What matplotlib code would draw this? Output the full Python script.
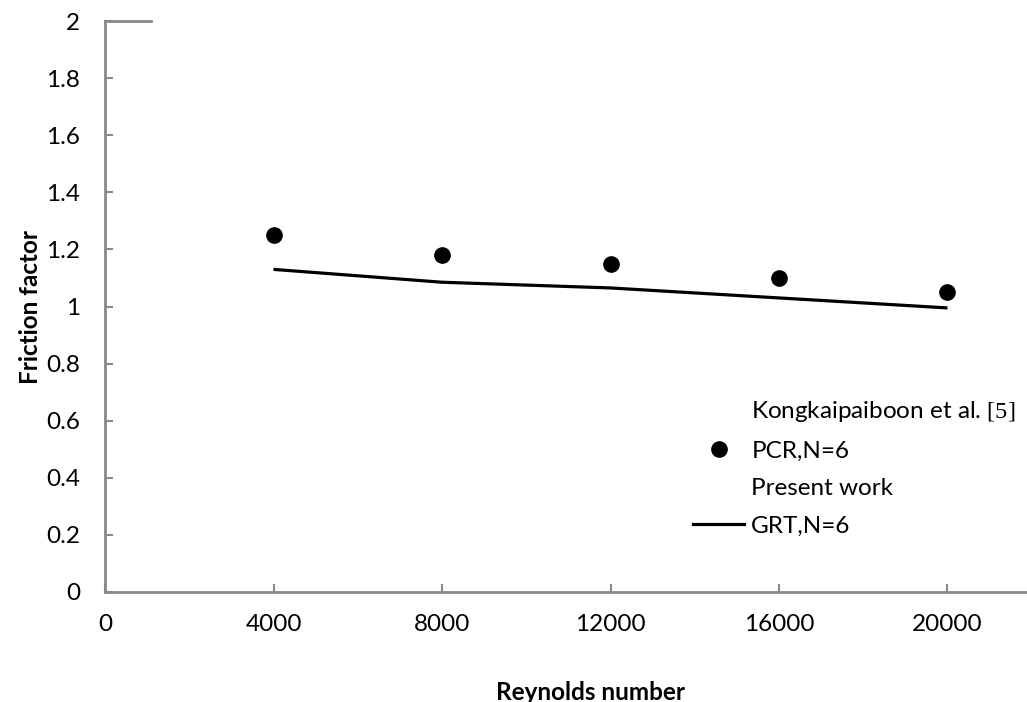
import matplotlib
matplotlib.use('Agg')
import matplotlib.pyplot as plt
from matplotlib.lines import Line2D

# Reynolds number vs friction factor, N=6
reynolds = [4000, 8000, 12000, 16000, 20000]
pcr_friction = [1.25, 1.18, 1.15, 1.10, 1.05]      # Kongkaipaiboon et al. [5]
grt_friction = [1.13, 1.085, 1.065, 1.03, 0.995]   # present work
x_ticks = [0, 4000, 8000, 12000, 16000, 20000]
y_ticks = [0, 0.2, 0.4, 0.6, 0.8, 1, 1.2, 1.4, 1.6, 1.8, 2]
y_tick_labels = ['0', '0.2', '0.4', '0.6', '0.8', '1', '1.2', '1.4', '1.6', '1.8', '2']

plt.rcParams['font.family'] = ['Lato', 'DejaVu Sans']
plt.rcParams['mathtext.fontset'] = 'custom'
plt.rcParams['mathtext.rm'] = 'Liberation Serif'

W, H = 1027, 702
fs = 17.5
fig = plt.figure(figsize=(W / 100, H / 100), dpi=100)
ax = fig.add_axes([105 / W, 1 - 592 / H, 1 - 105 / W, (592 - 21) / H])

grey = '#898989'
ax.plot(reynolds, grt_friction, color='black', lw=2.3, solid_capstyle='butt')
ax.plot(reynolds, pcr_friction, 'o', color='black', ms=11, ls='none')

ax.set_xlim(0, (W - 105) / 168.5 * 4000)
ax.set_ylim(0, 2)
ax.set_xticks(x_ticks)
ax.set_xticklabels([str(v) for v in x_ticks])
ax.set_yticks(y_ticks)
ax.set_yticklabels(y_tick_labels)

for side in ['top', 'right']:
    ax.spines[side].set_visible(False)
for side in ['left', 'bottom']:
    ax.spines[side].set_color(grey)
    ax.spines[side].set_linewidth(2)
# short stub along the top edge
ax.plot([0, 1100], [2, 2], color=grey, lw=2, clip_on=False)

ax.tick_params(axis='both', direction='in', length=6, width=1.5, color=grey,
               labelsize=fs, labelcolor='black')
ax.tick_params(axis='y', pad=18)
ax.tick_params(axis='x', pad=16)

ax.set_xlabel('Reynolds number', fontsize=fs, fontweight='bold')
ax.xaxis.set_label_coords((590 - 105) / (W - 105), -0.155)
ax.set_ylabel('Friction factor', fontsize=fs, fontweight='bold')
ax.yaxis.set_label_coords(-(105 - 42) / (W - 105), 0.5)

blank = Line2D([], [], ls='none')
dot = Line2D([], [], marker='o', color='black', ms=11, ls='none')
line = Line2D([], [], color='black', lw=2.3)
ax.legend([blank, dot, blank, line],
          [r'Kongkaipaiboon et al. $\mathrm{[5]}$', 'PCR,N=6', 'Present work', 'GRT,N=6'],
          loc='upper left', bbox_to_anchor=(693 / W, 1 - 399 / H),
          bbox_transform=fig.transFigure, frameon=False, fontsize=fs,
          handlelength=2.1, handletextpad=0.3, labelspacing=0.68, borderpad=0,
          borderaxespad=0)

fig.savefig('out.png', dpi=100)
